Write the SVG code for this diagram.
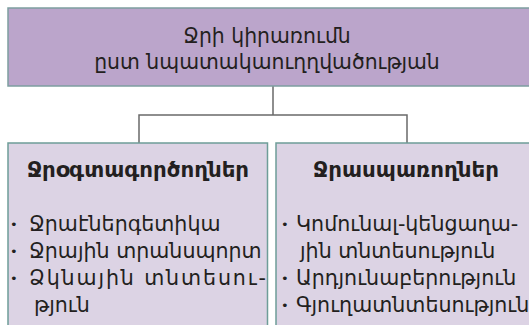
<svg xmlns="http://www.w3.org/2000/svg" width="529" height="325" viewBox="0 0 529 325">
<style>
.top{fill:#bba5cb;stroke:#7d9ea0;stroke-width:1.5}
.sub{fill:#dcd3e4;stroke:#6e9d98;stroke-width:1.5}
.conn{fill:none;stroke:#6a6a6a;stroke-width:1.5}
text{font-family:"DejaVu Sans","Noto Sans",sans-serif;fill:#231f20}
.t{font-size:20.4px}
.h{font-size:21.4px;font-weight:bold}
.b{font-size:20.6px}
.dot{font-size:13px}
</style>
<rect width="529" height="325" fill="#ffffff"/>
<g id="connectors">
<path class="conn" d="M273,86 V115 M139,143 V115 H407 V143"/>
</g>
<g id="node-root">
<rect class="top" x="8" y="8" width="530" height="78"/>
<text class="t" x="267" y="43" text-anchor="middle">Ջրի կիրառումն</text>
<text class="t" x="267" y="69" text-anchor="middle">ըստ նպատակաուղղվածության</text>
</g>
<g id="node-users">
<rect class="sub" x="8" y="143" width="259.5" height="190"/>
<text class="h" x="138" y="177" text-anchor="middle">Ջրօգտագործողներ</text>
<text class="dot" x="10" y="229">•</text>
<text class="dot" x="10" y="256">•</text>
<text class="dot" x="10" y="283">•</text>
<text class="b" x="29" y="231">Ջրաէներգետիկա</text>
<text class="b" x="29" y="258">Ջրային տրանսպորտ</text>
<text class="b" x="29" y="285" textLength="237" lengthAdjust="spacing">Ձկնային տնտեսու-</text>
<text class="b" x="34" y="312">թյուն</text>
</g>
<g id="node-consumers">
<rect class="sub" x="276" y="143" width="262" height="190"/>
<text class="h" x="406" y="177" text-anchor="middle">Ջրասպառողներ</text>
<text class="dot" x="281" y="229">•</text>
<text class="dot" x="281" y="283">•</text>
<text class="dot" x="281" y="310">•</text>
<text class="b" x="296" y="231">Կոմունալ-կենցաղա-</text>
<text class="b" x="300" y="258">յին տնտեսություն</text>
<text class="b" x="296" y="285">Արդյունաբերություն</text>
<text class="b" x="296" y="312">Գյուղատնտեսություն</text>
</g>
</svg>
